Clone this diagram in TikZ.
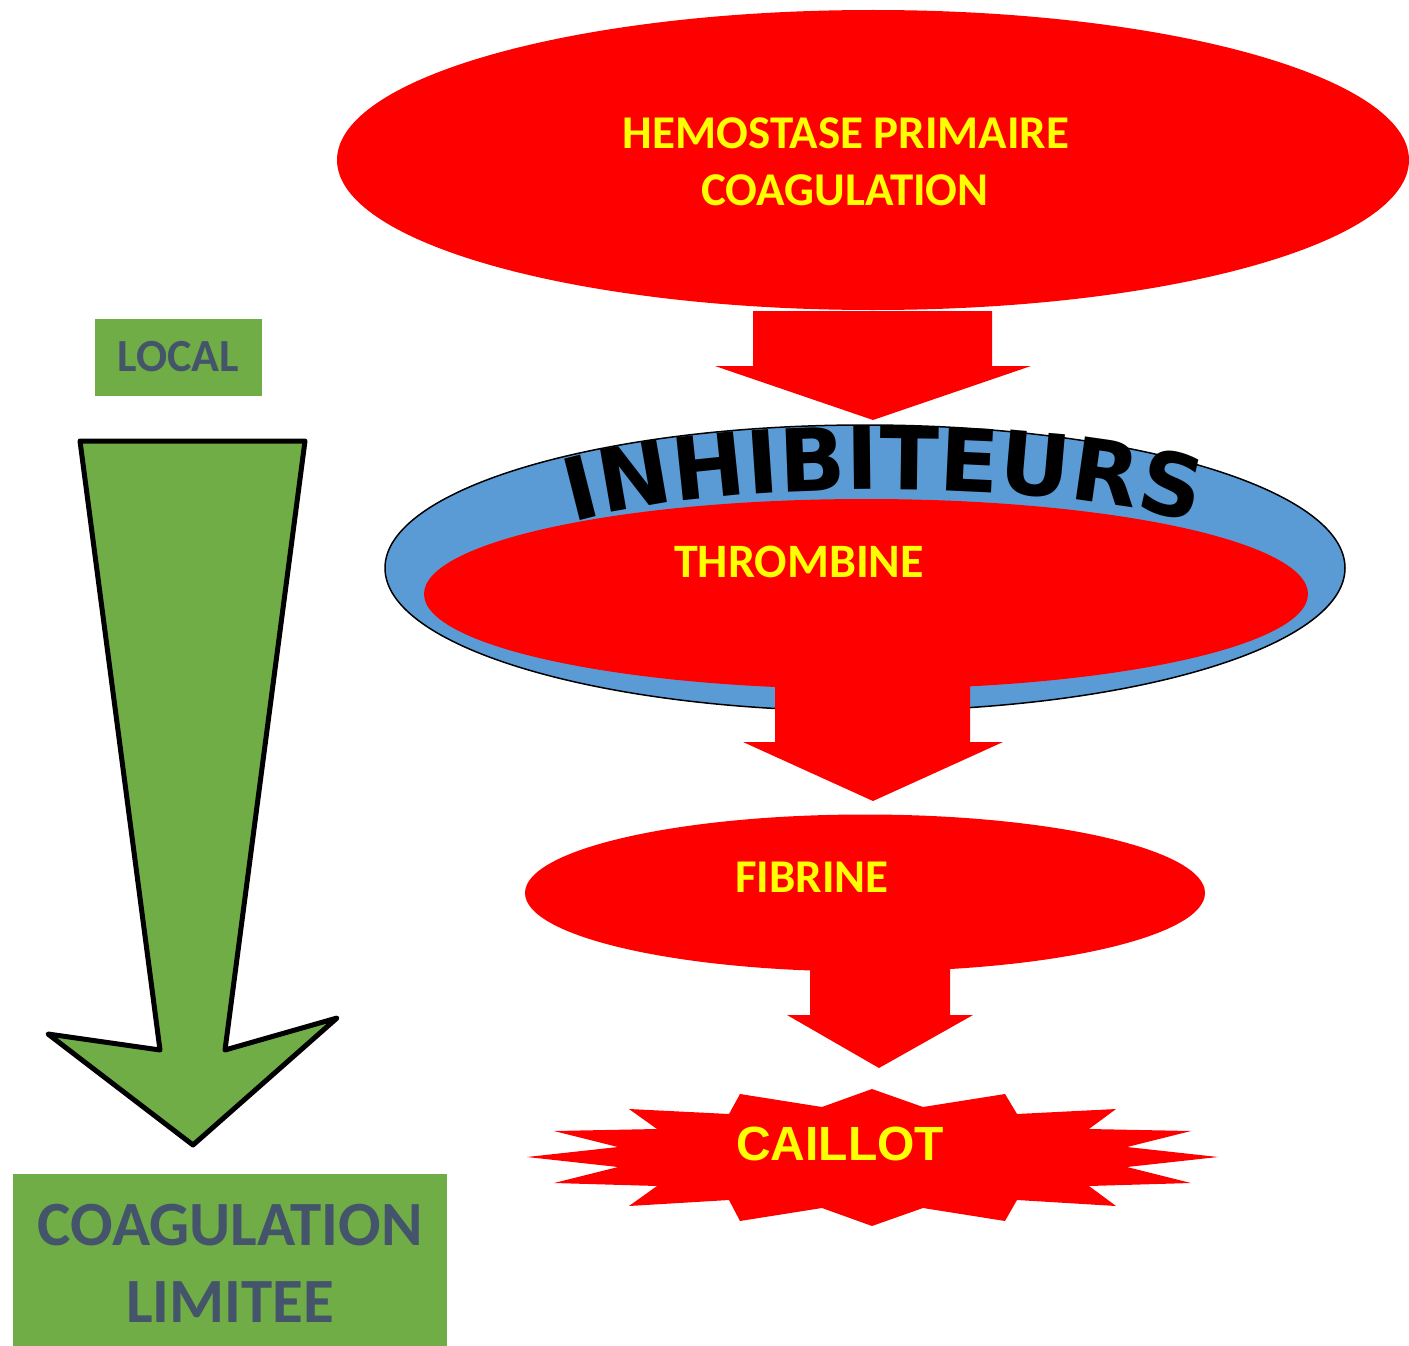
\documentclass[tikz,border=0pt]{standalone}
\usepackage{fontspec}
\setmainfont{Carlito}
\newfontfamily\dvfont{DejaVu Sans}
\newfontfamily\lbfont{Liberation Sans}
\usetikzlibrary{shapes.geometric,decorations.text}
\definecolor{rd}{HTML}{FF0000}
\definecolor{yl}{HTML}{FFFF00}
\definecolor{bl}{HTML}{5B9BD5}
\definecolor{gr}{HTML}{70AD47}
\definecolor{dk}{HTML}{44546A}
\begin{document}
\begin{tikzpicture}[x=1pt,y=-1pt,
  redell/.style={ellipse, fill=rd, draw=none, inner sep=0pt},
  ytext/.style={text=yl, font=\bfseries\fontsize{47}{57}\selectfont, inner sep=0pt, anchor=base},
  gtext/.style={text=dk, inner sep=0pt, anchor=base},
  blockarrow/.style={fill=rd, draw=none}]
\useasboundingbox (0,0) rectangle (1409,1346);

% top ellipse
\node[redell, minimum width=1072pt, minimum height=300pt] (hemo) at (873,160) {};
\node[ytext] (hemoA) at (846,148) {HEMOSTASE PRIMAIRE};
\node[ytext] (hemoB) at (845,205) {COAGULATION};

% arrow 1
\fill[blockarrow] (753,311)--(992,311)--(992,366)--(1031,366)--(873,420)--(715,366)--(753,366)--cycle;

% inhibiteurs ellipse
\node[ellipse, fill=bl, draw=black, line width=1.5pt, inner sep=0pt, minimum width=960pt, minimum height=286pt] (inhib) at (865,568) {};
\node[redell, minimum width=884pt, minimum height=190pt] (thromb) at (866,594) {};
\node[ytext, font=\bfseries\fontsize{48}{57}\selectfont] (thrtxt) at (799,577) {THROMBINE};
\coordinate (inhL) at (550,530);
\coordinate (inhR) at (1218,530);
\path[decorate, decoration={text along path, text align=center,
  text={|\dvfont\bfseries\fontsize{87}{87}\selectfont|INHIBITEURS}}]
  (inhL) .. controls (700,476) and (1068,476) .. (inhR);

% arrow 2
\fill[blockarrow] (775,684)--(970,684)--(970,742)--(1003,742)--(873,801)--(743,742)--(775,742)--cycle;

% fibrine
\node[redell, minimum width=680pt, minimum height=157pt] (fib) at (865,893) {};
\node[ytext] (fibtxt) at (812,892) {FIBRINE};

% arrow 3
\fill[blockarrow] (810,966)--(950,966)--(950,1015)--(973,1015)--(879,1068)--(787,1015)--(810,1015)--cycle;

% caillot star
\fill[rd] (872,1089)--(923,1107)--(1005,1094)--(1017,1114)--(1116,1109)--(1089,1129)--(1191,1131)--(1127,1147)--(1218,1157)--(1127,1167)--(1191,1183)--(1089,1186)--(1116,1206)--(1017,1200)--(1005,1221)--(923,1208)--(872,1226)--(822,1208)--(740,1221)--(729,1200)--(629,1206)--(657,1186)--(554,1183)--(618,1167)--(527,1157)--(618,1147)--(554,1131)--(657,1129)--(629,1109)--(729,1114)--(740,1094)--(822,1107)--cycle;
\node[text=yl, inner sep=0pt, anchor=base, font=\lbfont\bfseries\fontsize{48}{48}\selectfont] (caillot) at (840,1160) {CAILLOT};

% left side
\node[fill=gr, minimum width=167pt, minimum height=77pt, inner sep=0pt, text=dk, font=\bfseries\fontsize{46}{46}\selectfont] (local) at (178.5,357) {LOCAL};
\draw[fill=gr, line width=5pt, line join=round] (80,441)--(305,441)--(225,1050)--(337,1018)--(193,1145)--(48,1034)--(160,1050)--cycle;
\node[fill=gr, minimum width=434pt, minimum height=172pt, inner sep=0pt] (limbox) at (230,1260) {};
\node[gtext, font=\bfseries\fontsize{63}{63}\selectfont] (limA) at (230,1245) {COAGULATION};
\node[gtext, font=\bfseries\fontsize{63}{63}\selectfont] (limB) at (230,1322) {LIMITEE};
\end{tikzpicture}
\end{document}
